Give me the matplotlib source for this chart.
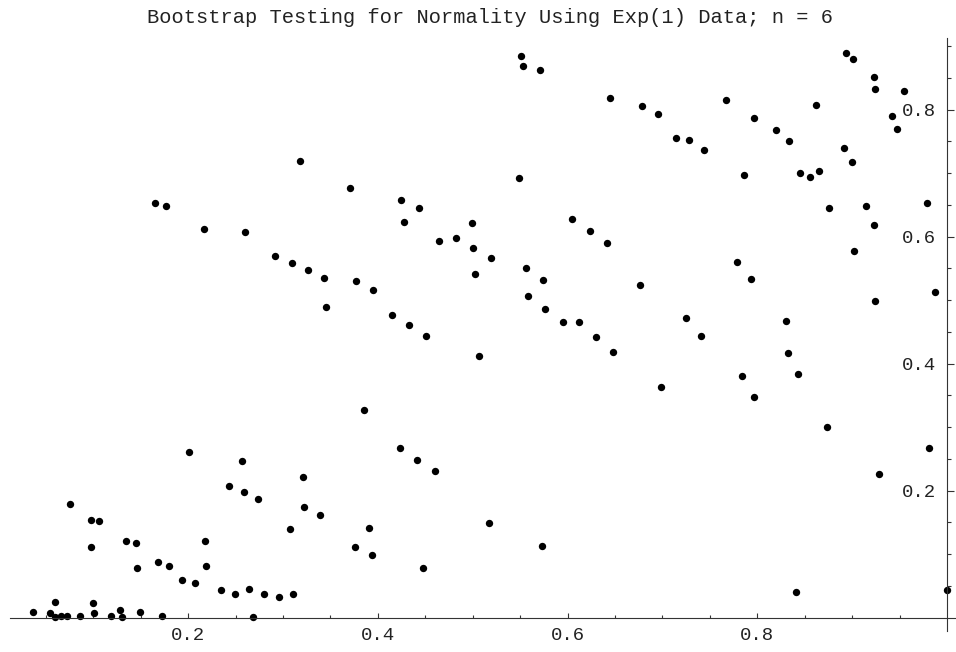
import matplotlib
matplotlib.use("Agg")
import matplotlib.pyplot as plt
from matplotlib.ticker import FixedLocator

# bootstrap points
x_vals = [
    0.036, 0.054, 0.060, 0.060, 0.066, 0.072, 0.075, 0.086, 0.098, 0.106,
    0.098, 0.100, 0.101, 0.119, 0.128, 0.130, 0.134, 0.145, 0.146, 0.149,
    0.168, 0.172, 0.180, 0.193, 0.201, 0.207, 0.218, 0.219, 0.235, 0.243,
    0.249, 0.257, 0.259, 0.264, 0.268, 0.274, 0.280, 0.296, 0.307, 0.311,
    0.321, 0.322, 0.339, 0.423, 0.441, 0.460, 0.391, 0.376, 0.394, 0.448,
    0.517, 0.573, 0.841, 0.928, 0.981, 1.000, 0.165, 0.177, 0.217, 0.260,
    0.292, 0.309, 0.326, 0.343, 0.345, 0.318, 0.371, 0.424, 0.443, 0.551,
    0.553, 0.571, 0.645, 0.549, 0.605, 0.427, 0.499, 0.464, 0.482, 0.500,
    0.519, 0.502, 0.624, 0.642, 0.676, 0.556, 0.574, 0.558, 0.576, 0.595,
    0.612, 0.630, 0.648, 0.377, 0.395, 0.415, 0.433, 0.451, 0.507, 0.385,
    0.923, 0.902, 0.779, 0.793, 0.725, 0.741, 0.830, 0.924, 0.987, 0.832,
    0.843, 0.784, 0.797, 0.698, 0.874, 0.678, 0.695, 0.714, 0.728, 0.744,
    0.767, 0.796, 0.820, 0.833, 0.786, 0.845, 0.856, 0.865, 0.862, 0.876,
    0.893, 0.901, 0.923, 0.924, 0.955, 0.942, 0.947, 0.891, 0.900, 0.915,
    0.979,
]
y_vals = [
    0.009, 0.007, 0.024, 0.001, 0.003, 0.003, 0.179, 0.003, 0.154, 0.152,
    0.111, 0.023, 0.007, 0.002, 0.012, 0.001, 0.121, 0.117, 0.078, 0.009,
    0.087, 0.002, 0.082, 0.059, 0.261, 0.054, 0.121, 0.082, 0.043, 0.207,
    0.038, 0.246, 0.198, 0.045, 0.001, 0.187, 0.038, 0.033, 0.140, 0.038,
    0.222, 0.174, 0.161, 0.267, 0.249, 0.231, 0.141, 0.112, 0.099, 0.078,
    0.149, 0.113, 0.040, 0.226, 0.267, 0.044, 0.653, 0.648, 0.612, 0.607,
    0.569, 0.558, 0.547, 0.535, 0.490, 0.719, 0.676, 0.658, 0.646, 0.885,
    0.869, 0.863, 0.818, 0.693, 0.628, 0.623, 0.622, 0.594, 0.598, 0.583,
    0.566, 0.541, 0.609, 0.590, 0.524, 0.551, 0.532, 0.506, 0.486, 0.465,
    0.465, 0.442, 0.418, 0.530, 0.516, 0.477, 0.461, 0.444, 0.412, 0.327,
    0.618, 0.578, 0.560, 0.533, 0.472, 0.444, 0.467, 0.498, 0.513, 0.417,
    0.384, 0.380, 0.348, 0.364, 0.301, 0.806, 0.794, 0.755, 0.753, 0.737,
    0.815, 0.787, 0.768, 0.750, 0.698, 0.700, 0.694, 0.704, 0.807, 0.645,
    0.890, 0.880, 0.851, 0.832, 0.830, 0.790, 0.769, 0.740, 0.717, 0.648,
    0.653,
]

x_major = [0.2, 0.4, 0.6, 0.8]
x_minor = [0.05, 0.1, 0.15, 0.25, 0.3, 0.35, 0.45, 0.5, 0.55, 0.65, 0.7, 0.75, 0.85, 0.9, 0.95]
y_major = [0.2, 0.4, 0.6, 0.8]
y_minor = [0.05, 0.1, 0.15, 0.25, 0.3, 0.35, 0.45, 0.5, 0.55, 0.65, 0.7, 0.75, 0.85, 0.9]

mono = "Liberation Mono"

fig = plt.figure(figsize=(9.56, 6.52), dpi=100)
ax = fig.add_axes([10 / 956, 21 / 652, 946 / 956, 593 / 652])

ax.plot(x_vals, y_vals, "o", color="black", ms=5.3, mew=0, clip_on=False)

ax.set_xlim(0.0121, 1.0095)
ax.set_ylim(-0.021, 0.913)

# Mathematica style axes: x axis at y=0, y axis at x=1
for s in ["top", "right"]:
    ax.spines[s].set_visible(False)
ax.spines["bottom"].set_position(("data", 0))
ax.spines["left"].set_position(("data", 1))
for s in ["bottom", "left"]:
    ax.spines[s].set_linewidth(0.8)
    ax.spines[s].set_color("#333333")

ax.xaxis.set_major_locator(FixedLocator(x_major))
ax.xaxis.set_minor_locator(FixedLocator(x_minor))
ax.yaxis.set_major_locator(FixedLocator(y_major))
ax.yaxis.set_minor_locator(FixedLocator(y_minor))
ax.set_xticklabels([f"{v:.1f}" for v in x_major])
ax.set_yticklabels([f"{v:.1f}" for v in y_major])

ax.tick_params(axis="both", which="both", direction="in", width=0.8, color="#333333")
ax.tick_params(axis="x", which="major", length=3.8, pad=7)
ax.tick_params(axis="x", which="minor", length=2.3)
ax.tick_params(axis="y", which="major", length=4.8, pad=8)
ax.tick_params(axis="y", which="minor", length=3)
for lab in ax.get_xticklabels() + ax.get_yticklabels():
    lab.set_fontfamily(mono)
    lab.set_fontsize(13.7)
    lab.set_color("#222222")

fig.text(490 / 956, 1 - 17.5 / 652, "Bootstrap Testing for Normality Using Exp(1) Data; n = 6",
         ha="center", va="center", fontfamily=mono, fontsize=14.7, color="#222222")

fig.savefig("out.png", dpi=100)
